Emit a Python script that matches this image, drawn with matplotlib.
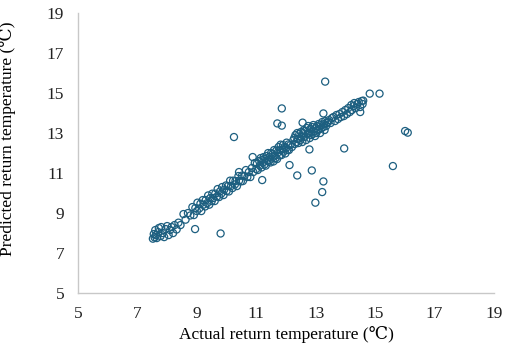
import matplotlib
matplotlib.use('Agg')
import matplotlib.pyplot as plt

plt.rcParams['font.family'] = ['Liberation Serif', 'DejaVu Serif']

# main band
band_x = [7.52, 7.55, 7.58, 7.6, 7.62, 7.65, 7.7, 7.72, 7.78, 7.8, 7.85, 7.9, 7.95, 8.0,
          8.05, 8.1, 8.15, 8.2, 8.25, 8.32, 8.38, 8.45,
          8.55, 8.62, 8.7, 8.78, 8.85, 8.9, 8.95, 9.0, 9.02, 9.08, 9.12, 9.15, 9.2, 9.22,
          9.28, 9.3, 9.35, 9.38, 9.42, 9.45, 9.5, 9.52, 9.55, 9.6, 9.62, 9.68, 9.7, 9.75,
          9.78, 9.82, 9.85, 9.9, 9.92, 9.98, 10.0, 10.05, 10.08, 10.12, 10.15, 10.2, 10.22,
          10.28, 10.3, 10.35, 10.4, 10.42, 10.48, 10.52, 10.55, 10.6, 10.65, 10.7,
          10.75, 10.8, 10.85, 10.88, 10.9, 10.95, 11.0, 11.02, 11.05, 11.1, 11.12, 11.15,
          11.18, 11.2, 11.22, 11.25, 11.28, 11.3, 11.32, 11.35, 11.38, 11.4, 11.42, 11.45,
          11.48, 11.5, 11.52, 11.55, 11.58, 11.6, 11.62, 11.65, 11.68, 11.7, 11.72, 11.75,
          11.78, 11.8, 11.82, 11.85, 11.88, 11.9, 11.92, 11.95, 11.98, 12.0, 12.02, 12.05,
          12.08, 12.1, 12.15, 12.2, 12.25,
          12.28, 12.3, 12.32, 12.35, 12.38, 12.4, 12.42, 12.45, 12.48, 12.5, 12.52, 12.55,
          12.58, 12.6, 12.62, 12.65, 12.68, 12.7, 12.72, 12.75, 12.78, 12.8, 12.82, 12.85,
          12.88, 12.9, 12.92, 12.95, 12.98, 13.0, 13.02, 13.05, 13.08, 13.1, 13.12, 13.15,
          13.18, 13.2, 13.22, 13.25, 13.28, 13.3, 13.32, 13.35, 13.38, 13.42, 13.45, 13.5,
          13.55,
          13.6, 13.65, 13.7, 13.75, 13.8, 13.85, 13.9, 13.95, 14.0, 14.05, 14.1, 14.15,
          14.2, 14.22, 14.28, 14.3, 14.35, 14.4, 14.45, 14.5, 14.5, 14.55, 14.58, 14.6]
band_y = [7.72, 7.95, 7.78, 8.15, 7.9, 7.75, 8.05, 8.25, 7.85, 8.3, 8.0, 7.8, 8.2, 8.35,
          7.9, 8.15, 8.3, 8.0, 8.4, 8.18, 8.52, 8.4,
          8.95, 8.67, 9.0, 8.88, 9.3, 8.9, 9.25, 9.1, 9.52, 9.23, 9.47, 9.1, 9.65, 9.42,
          9.33, 9.65, 9.5, 9.88, 9.42, 9.75, 9.6, 9.97, 9.75, 9.6, 9.97, 9.83, 10.2, 9.8,
          10.08, 9.97, 10.3, 9.9, 10.17, 10.38, 10.1, 10.35, 10.08, 10.62, 10.35, 10.25, 10.62,
          10.43, 10.6, 10.35, 10.85, 10.62, 10.58, 10.87, 10.6, 10.85, 11.15, 10.8,
          11.05, 10.8, 11.25, 11.8, 11.05, 11.5, 11.2, 11.47, 11.15, 11.6, 11.37, 11.75,
          11.28, 11.65, 11.52, 11.8, 11.43, 11.7, 11.37, 11.85, 11.63, 12.0, 11.57, 11.8,
          11.53, 12.0, 11.72, 11.95, 11.58, 12.15, 11.87, 11.75, 12.13, 11.7, 12.02, 12.3,
          11.88, 12.15, 12.42, 11.9, 12.18, 12.4, 12.07, 12.3, 11.98, 12.25, 12.52, 12.15,
          12.43, 12.15, 12.4, 12.3, 12.65,
          12.75, 12.45, 12.9, 12.55, 13.0, 12.7, 12.5, 12.95, 12.65, 13.05, 12.8, 12.55,
          13.0, 13.15, 12.8, 13.1, 12.65, 13.25, 12.95, 13.35, 13.0, 12.75, 13.2, 12.9,
          13.3, 12.95, 13.4, 13.1, 12.85, 13.25, 13.0, 13.35, 13.15, 13.45, 13.2, 13.0,
          13.4, 13.25, 13.55, 13.3, 13.45, 13.15, 13.6, 13.35, 13.5, 13.55, 13.65, 13.5,
          13.75,
          13.8, 13.6, 13.9, 13.7, 13.95, 13.8, 14.05, 13.85, 14.15, 13.95, 14.25, 14.05,
          14.4, 14.15, 14.35, 14.5, 14.25, 14.45, 14.55, 14.05, 14.3, 14.6, 14.45, 14.62]

# scattered points off the band
outlier_x = [13.32, 14.82, 15.15, 11.86, 11.71, 11.86, 13.26, 12.56, 10.25, 16.01, 16.1,
             13.96, 15.6, 12.12, 12.38, 12.87, 13.26, 13.22, 12.99, 9.8, 8.94, 12.79,
             11.2, 10.42]
outlier_y = [15.57, 14.97, 14.97, 14.23, 13.48, 13.37, 13.98, 13.52, 12.8, 13.1, 13.02,
             12.23, 11.35, 11.4, 10.88, 11.13, 10.58, 10.05, 9.52, 7.98, 8.2, 12.18,
             10.65, 11.05]

ticks = [5, 7, 9, 11, 13, 15, 17, 19]

fig = plt.figure(figsize=(5.05, 3.57), dpi=100)
ax = fig.add_axes([0.1545, 0.179, 0.8235, 0.7846])

ax.scatter(band_x + outlier_x, band_y + outlier_y, s=26, facecolors='none',
           edgecolors='#1d5f80', linewidths=0.9)

ax.set_xlim(5, 19)
ax.set_ylim(5, 19)
ax.set_xticks(ticks)
ax.set_yticks(ticks)
ax.tick_params(length=0, labelsize=12.5, colors='#222222')
ax.tick_params(axis='x', pad=9)
ax.tick_params(axis='y', pad=10)
for s in ['top', 'right']:
    ax.spines[s].set_visible(False)
for s in ['left', 'bottom']:
    ax.spines[s].set_color('#c8c8c8')
    ax.spines[s].set_linewidth(1.0)

ax.set_xlabel('Actual return temperature (℃)', fontsize=12.5, labelpad=3)
ax.set_ylabel('Predicted return temperature (℃)', fontsize=12.5)
ax.yaxis.set_label_coords(-0.148, 0.55)

fig.savefig('out.png', dpi=100)
